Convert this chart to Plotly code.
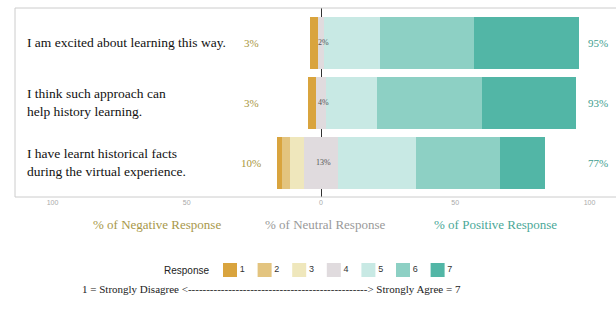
import plotly.graph_objects as go

items = ["I am excited about learning this way.",
         "I think such approach can<br>help history learning.",
         "I have learnt historical facts<br>during the virtual experience."]
levels = ["1", "2", "3", "4", "5", "6", "7"]
lvl1 = [3, 3, 2]
lvl2 = [0, 0, 3]
lvl3 = [0, 0, 5]
lvl4 = [2, 4, 13]
lvl5 = [21, 19, 29]
lvl6 = [35, 39, 31]
lvl7 = [39, 35, 17]
colors = ["#D9A43E", "#E3C47F", "#EFE7BC", "#E0DBDE", "#C8E9E4", "#8DD0C4", "#52B6A6"]
tick_vals = [-100, -50, 0, 50, 100]
tick_text = ["100", "50", "0", "50", "100"]

rows = [0, 1, 2]
neg = [a + b + c for a, b, c in zip(lvl1, lvl2, lvl3)]
pos = [a + b + c for a, b, c in zip(lvl5, lvl6, lvl7)]

W, H = 616, 309
ML, MT = 15, 8
PW, PH = W - ML, H - MT

def py(px):
    return (H - px) / PH

def pxx(px):
    return (px - ML) / PW

fig = go.Figure()
bw = 0.88
def bar(vals, color, sign):
    fig.add_trace(go.Bar(x=[sign * v for v in vals], y=rows, orientation="h",
                         marker=dict(color=color, line=dict(width=0)), width=bw,
                         showlegend=False, hoverinfo="skip"))

# neutral halves first (closest to zero), then outward
bar([v / 2 for v in lvl4], colors[3], -1)
bar([v / 2 for v in lvl4], colors[3], 1)
bar(lvl3, colors[2], -1)
bar(lvl5, colors[4], 1)
bar(lvl2, colors[1], -1)
bar(lvl6, colors[5], 1)
bar(lvl1, colors[0], -1)
bar(lvl7, colors[6], 1)

# legend row on secondary axes
lev_x = [1, 2, 3, 4, 5, 6, 7]
fig.add_trace(go.Scatter(x=lev_x, y=[0] * 7, xaxis="x2", yaxis="y2", mode="markers+text",
                         marker=dict(symbol="square", size=14, color=colors, line=dict(width=0)),
                         text=levels, textposition="middle right",
                         textfont=dict(family="Liberation Sans", size=9, color="#333"),
                         showlegend=False, hoverinfo="skip"))

serif = "Liberation Serif"
ann = []
for r, t in zip(rows, items):
    ann.append(dict(x=-110.2, y=r, xref="x", yref="y", text=t, showarrow=False,
                    xanchor="left", align="left",
                    font=dict(family=serif, size=13.5, color="#111")))
for r, v in zip(rows, neg):
    ann.append(dict(x=-26, y=r, xref="x", yref="y", text=f"{v}%", showarrow=False,
                    font=dict(family=serif, size=11, color="#A8963C")))
for r, v in zip(rows, pos):
    ann.append(dict(x=103, y=r, xref="x", yref="y", text=f"{v}%", showarrow=False,
                    font=dict(family=serif, size=11, color="#3E9E8E")))
for r, v in zip(rows, lvl4):
    ann.append(dict(x=0.8, y=r, xref="x", yref="y", text=f"{v}%", showarrow=False,
                    font=dict(family=serif, size=8, color="#555")))

ann.append(dict(x=pxx(157), y=py(234), xref="paper", yref="paper", text="% of Negative Response",
                xanchor="center", showarrow=False, font=dict(family=serif, size=13, color="#A8984A")))
ann.append(dict(x=pxx(325), y=py(234), xref="paper", yref="paper", text="% of Neutral Response",
                xanchor="center", showarrow=False, font=dict(family=serif, size=13, color="#999999")))
ann.append(dict(x=pxx(495), y=py(234), xref="paper", yref="paper", text="% of Positive Response",
                xanchor="center", showarrow=False, font=dict(family=serif, size=13, color="#4AA898")))
ann.append(dict(x=0.45, y=0, xref="x2", yref="y2", text="Response", showarrow=False,
                xanchor="right", font=dict(family="Liberation Sans", size=10, color="#222")))
ann.append(dict(x=pxx(80), y=py(297), xref="paper", yref="paper",
                text="1 = Strongly Disagree <" + "-" * 49 + "> Strongly Agree = 7",
                showarrow=False, xanchor="left", font=dict(family=serif, size=11, color="#222")))

fig.update_layout(
    width=W, height=H, margin=dict(l=ML, r=0, t=MT, b=0),
    paper_bgcolor="white", plot_bgcolor="white",
    barmode="relative", bargap=0,
    annotations=ann,
    xaxis=dict(range=[(ML - 321) / 2.685, (W - 321) / 2.685], tickvals=tick_vals, ticktext=tick_text,
               showgrid=False, zeroline=True, zerolinecolor="#333", zerolinewidth=1,
               tickfont=dict(family="Liberation Sans", size=7, color="#AAA"), ticks="",
               showline=False, fixedrange=True),
    yaxis=dict(domain=[py(197), 1], range=[2.567, -0.583], showticklabels=False, showgrid=False,
               zeroline=False, fixedrange=True),
    xaxis2=dict(domain=[0, 1], anchor="y2", range=[(ML - 195.4) / 34.6, (W - 195.4) / 34.6],
                visible=False, fixedrange=True),
    yaxis2=dict(domain=[py(280), py(260)], anchor="x2", range=[-1, 1], visible=False, fixedrange=True),
    shapes=[dict(type="rect", xref="paper", yref="paper", x0=0, x1=1.01, y0=py(197), y1=1,
                 line=dict(color="#CCCCCC", width=1), fillcolor="rgba(0,0,0,0)", layer="above")],
)

fig.write_html("out.html", config={"displayModeBar": False},
               post_script="document.body.style.margin='0';document.body.style.overflow='hidden';")
